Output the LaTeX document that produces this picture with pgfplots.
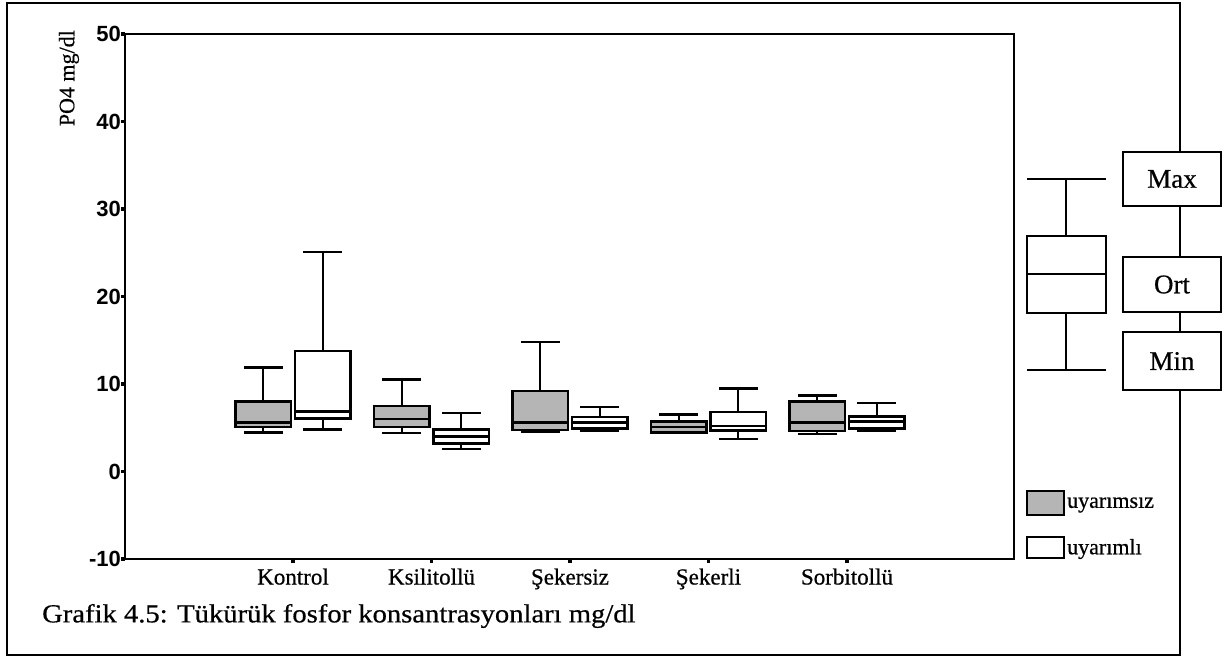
\documentclass[border=0pt]{standalone}
\usepackage{fontspec}
\setmainfont{Liberation Serif}[FakeBold=0.6]
\newfontfamily\arial{Liberation Sans}
\newfontfamily\capfont{Liberation Serif}[FakeBold=0.6, FakeStretch=1.1]
\usepackage{pgfplots}
\usepgfplotslibrary{statistics}
\pgfplotsset{compat=1.18}
\definecolor{boxgray}{gray}{0.71}

\begin{document}
\begin{tikzpicture}
\useasboundingbox (0pt,0pt) rectangle (1231pt,-659pt);
% outer frame
\draw[line width=1.6pt] (7pt,-3pt) rectangle (1180pt,-655pt);
\begin{axis}[
  at={(125pt,-559pt)}, anchor=south west,
  scale only axis, width=889pt, height=525pt,
  xmin=-0.213, xmax=6.206, ymin=-10, ymax=50,
  xtick={1,2,3,4,5},
  xticklabels={Kontrol,Ksilitollü,Şekersiz,Şekerli,Sorbitollü},
  ytick={-10,0,10,20,30,40,50},
  tick pos=left, tick align=outside, major tick length=4pt,
  tick style={line width=3.5pt, black},
  axis line style={line width=2.6pt},
  /pgf/number format/assume math mode=true,
  yticklabel style={font=\arial\bfseries\fontsize{22}{22}\selectfont, inner sep=1pt, xshift=1pt},
  xticklabel style={font=\fontsize{23}{23}\selectfont, yshift=-2pt},
  boxplot/draw direction=y,
  boxplot/box extend=0.4, boxplot/whisker extend=0.28,
  clip=false,
]
% Kontrol
\addplot[boxplot prepared={lower whisker=4.45, lower quartile=5.1, median=5.6, upper quartile=8.0, upper whisker=11.9, draw position=0.785}, draw=black, fill=boxgray, line width=2.4pt] coordinates {};
\addplot[boxplot prepared={lower whisker=4.8, lower quartile=6.05, median=6.85, upper quartile=13.8, upper whisker=25.1, draw position=1.215}, draw=black, fill=white, line width=2.4pt] coordinates {};
% Ksilitollu
\addplot[boxplot prepared={lower whisker=4.4, lower quartile=5.1, median=6.0, upper quartile=7.5, upper whisker=10.5, draw position=1.785}, draw=black, fill=boxgray, line width=2.4pt] coordinates {};
\addplot[boxplot prepared={lower whisker=2.6, lower quartile=3.2, median=4.0, upper quartile=4.8, upper whisker=6.7, draw position=2.215}, draw=black, fill=white, line width=2.4pt] coordinates {};
% Sekersiz
\addplot[boxplot prepared={lower whisker=4.5, lower quartile=4.75, median=5.6, upper quartile=9.2, upper whisker=14.8, draw position=2.785}, draw=black, fill=boxgray, line width=2.4pt] coordinates {};
\addplot[boxplot prepared={lower whisker=4.6, lower quartile=4.9, median=5.6, upper quartile=6.2, upper whisker=7.4, draw position=3.215}, draw=black, fill=white, line width=2.4pt] coordinates {};
% Sekerli
\addplot[boxplot prepared={lower whisker=4.4, lower quartile=4.45, median=5.1, upper quartile=5.7, upper whisker=6.5, draw position=3.785}, draw=black, fill=boxgray, line width=2.4pt] coordinates {};
\addplot[boxplot prepared={lower whisker=3.7, lower quartile=4.7, median=5.2, upper quartile=6.8, upper whisker=9.5, draw position=4.215}, draw=black, fill=white, line width=2.4pt] coordinates {};
% Sorbitollu
\addplot[boxplot prepared={lower whisker=4.3, lower quartile=4.6, median=5.6, upper quartile=8.0, upper whisker=8.7, draw position=4.785}, draw=black, fill=boxgray, line width=2.4pt] coordinates {};
\addplot[boxplot prepared={lower whisker=4.6, lower quartile=4.9, median=5.7, upper quartile=6.3, upper whisker=7.8, draw position=5.215}, draw=black, fill=white, line width=2.4pt] coordinates {};
\end{axis}
% y label
\node[rotate=90, anchor=east, font=\fontsize{22}{22}\selectfont, inner sep=0pt] at (69pt,-30pt) {PO4 mg/dl};
% caption
\node[anchor=west, font=\capfont\fontsize{26}{26}\selectfont, inner sep=0pt] at (42pt,-616pt) {Grafik 4.5: Tükürük fosfor konsantrasyonları mg/dl};
% legend
\draw[line width=1.8pt, fill=boxgray] (1027pt,-491pt) rectangle (1064pt,-515pt);
\node[anchor=west, font=\fontsize{22}{22}\selectfont, inner sep=0pt] at (1067pt,-505pt) {uyarımsız};
\draw[line width=1.8pt, fill=white] (1027pt,-537pt) rectangle (1064pt,-558pt);
\node[anchor=west, font=\fontsize{22}{22}\selectfont, inner sep=0pt] at (1067pt,-549pt) {uyarımlı};
% key diagram
\draw[line width=1.6pt] (1027pt,-179pt) -- (1106pt,-179pt);
\draw[line width=1.6pt] (1066pt,-179pt) -- (1066pt,-236pt);
\draw[line width=1.6pt] (1027pt,-236pt) rectangle (1106pt,-313pt);
\draw[line width=1.6pt] (1027pt,-274pt) -- (1106pt,-274pt);
\draw[line width=1.6pt] (1066pt,-313pt) -- (1066pt,-370pt);
\draw[line width=1.6pt] (1027pt,-370pt) -- (1106pt,-370pt);
\foreach \yt/\yb/\t in {152/206/Max, 257/312/Ort, 332/390/Min}{
  \draw[line width=1.6pt, fill=white] (1123pt,-\yt pt) rectangle (1221pt,-\yb pt);
  \node[font=\fontsize{27}{27}\selectfont, inner sep=0pt] at (1172pt,{-(\yt+\yb)/2*1pt}) {\t};
}
\end{tikzpicture}
\end{document}
